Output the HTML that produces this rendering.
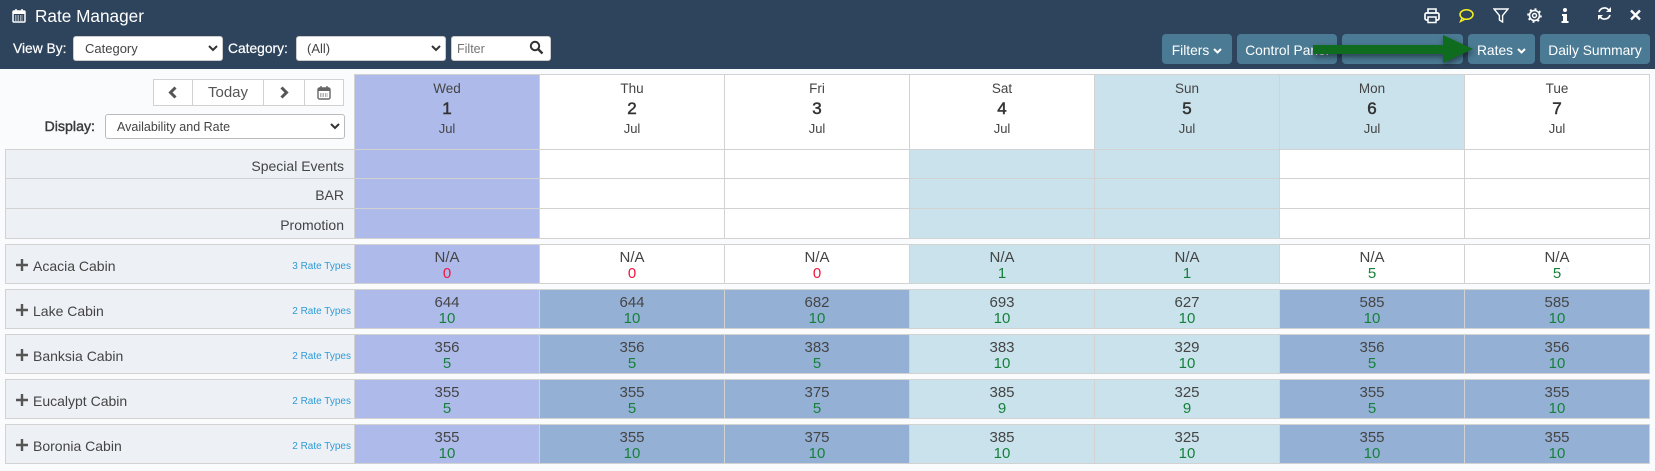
<!DOCTYPE html>
<html lang="en">
<head>
<meta charset="utf-8">
<title>Rate Manager</title>
<style>
html,body{margin:0;padding:0;width:1655px;height:471px;overflow:hidden;background:#f9fbfd;font-family:"Liberation Sans",sans-serif;color:#444}
.a{position:absolute;box-sizing:border-box}
#top{left:0;top:0;width:1655px;height:69px;background:#2e445c}
.lbl{color:#fff;font-size:13.8px;line-height:20px;white-space:nowrap;-webkit-text-stroke:.2px #fff}
select,input{font-family:"Liberation Sans",sans-serif;outline:none}
.sel{appearance:none;-webkit-appearance:none;background:#fff;border:1px solid #ccc;border-radius:3px;font-size:13px;color:#444;margin:0}
.btn{background:#4b7a94;border:0;border-radius:4px;color:#fff;font:13.8px "Liberation Sans",sans-serif;top:34px;height:30px;padding:2px 0 0;text-align:center;white-space:nowrap}
.btn svg{margin-left:4px;vertical-align:1px}
.cell{border:1px solid #d2d2d2;text-align:center}
.hd{position:absolute;left:0;right:0;text-align:center;color:#444}
.lab{background:#edf0f5;border:1px solid #d2d2d2}
.ic{position:absolute}
</style>
</head>
<body>
<div class="a" id="top"></div>

<svg class="ic" style="left:12px;top:8px" width="14" height="15" viewBox="0 0 14 15"><rect x="1" y="3" width="12" height="11" rx="1" fill="none" stroke="#fff" stroke-width="1.5"/><rect x="1" y="3" width="12" height="3" fill="#fff"/><path d="M4 1v3M10 1v3" stroke="#fff" stroke-width="1.5"/><path d="M3 8h8M3 10h8M3 12h8" stroke="#fff" stroke-dasharray="1.5 1"/></svg>
<div class="a" style="left:35px;top:5px;color:#fff;font-size:17.2px;line-height:22px;white-space:nowrap">Rate Manager</div>

<div class="a lbl" style="left:13px;top:39px">View By:</div>
<select class="a sel" style="left:73px;top:36px;width:150px;height:25px;padding-left:11px"><option>Category</option></select>
<svg class="ic" style="left:208px;top:45px;pointer-events:none" width="10" height="7" viewBox="0 0 10 7"><path d="M1 1l4 4 4-4" fill="none" stroke="#333" stroke-width="2"/></svg>
<div class="a lbl" style="left:228px;top:39px">Category:</div>
<select class="a sel" style="left:296px;top:36px;width:150px;height:25px;padding-left:10px"><option>(All)</option></select>
<svg class="ic" style="left:431px;top:45px;pointer-events:none" width="10" height="7" viewBox="0 0 10 7"><path d="M1 1l4 4 4-4" fill="none" stroke="#333" stroke-width="2"/></svg>
<input class="a sel" style="left:451px;top:36px;width:100px;height:25px;padding-left:5px;font-size:12.5px" placeholder="Filter">
<svg class="ic" style="left:529px;top:40px;pointer-events:none" width="15" height="15" viewBox="0 0 15 15"><circle cx="6" cy="6" r="4.2" fill="none" stroke="#333" stroke-width="2"/><path d="M9 9l4.5 4.5" stroke="#333" stroke-width="2.4"/></svg>

<svg class="ic" style="left:1424px;top:7px" width="16" height="17" viewBox="0 0 16 17"><path d="M4 6V2h8v4" fill="none" stroke="#fff" stroke-width="1.6"/><rect x="1" y="6" width="14" height="7" rx="1.5" fill="none" stroke="#fff" stroke-width="1.7"/><rect x="4" y="10" width="8" height="5.5" fill="#2e445c" stroke="#fff" stroke-width="1.5"/></svg>
<svg class="ic" style="left:1458px;top:8px" width="16" height="15" viewBox="0 0 16 15"><ellipse cx="8.5" cy="6.5" rx="6.5" ry="4.8" fill="none" stroke="#f5f021" stroke-width="1.5"/><path d="M4 10l-1.5 3.5 4-2" fill="none" stroke="#f5f021" stroke-width="1.4"/></svg>
<svg class="ic" style="left:1493px;top:8px" width="16" height="15" viewBox="0 0 16 15"><path d="M1 1h14L9.6 7.5V14L6.4 12V7.5z" fill="none" stroke="#fff" stroke-width="1.4"/></svg>
<svg class="ic" style="left:1527px;top:8px" width="15" height="15" viewBox="0 0 15 15"><circle cx="7.5" cy="7.5" r="5" fill="none" stroke="#fff" stroke-width="1.6"/><circle cx="7.5" cy="7.5" r="2" fill="none" stroke="#fff" stroke-width="1.4"/><circle cx="7.5" cy="7.5" r="6.4" fill="none" stroke="#fff" stroke-width="1.8" stroke-dasharray="2 3"/></svg>
<svg class="ic" style="left:1561px;top:8px" width="8" height="15" viewBox="0 0 8 15"><circle cx="4" cy="2" r="2" fill="#fff"/><path d="M1 6h5v7h1.5v2H.5v-2H2V8H1z" fill="#fff"/></svg>
<svg class="ic" style="left:1597px;top:6px" width="15" height="15" viewBox="0 0 15 15"><path d="M2 6a5.6 5.6 0 0 1 10-1.6M13 9a5.6 5.6 0 0 1-10 1.6" fill="none" stroke="#fff" stroke-width="1.7"/><path d="M14 1v5h-5zM1 14V9h5z" fill="#fff"/></svg>
<svg class="ic" style="left:1630px;top:9px" width="11" height="12" viewBox="0 0 11 12"><path d="M1 1.500l9 9M10 1.500l-9 9" stroke="#fff" stroke-width="2.400"/></svg>

<button class="a btn" style="left:1162px;width:70px">Filters<svg width="9" height="6" viewBox="0 0 9 6"><path d="M1 1l3.500 3.500L8 1" fill="none" stroke="#fff" stroke-width="2"/></svg></button>
<button class="a btn" style="left:1237px;width:100px">Control Panel</button>
<button class="a btn" style="left:1342px;width:121px"></button>
<button class="a btn" style="left:1468px;width:67px">Rates<svg width="9" height="6" viewBox="0 0 9 6"><path d="M1 1l3.500 3.500L8 1" fill="none" stroke="#fff" stroke-width="2"/></svg></button>
<button class="a btn" style="left:1540px;width:110px">Daily Summary</button>

<svg class="ic" style="left:1305px;top:30px;filter:drop-shadow(1px 3px 3px rgba(0,0,0,.45))" width="175" height="40" viewBox="0 0 175 40"><path d="M8 15h130V5l30 14-30 14V24H8z" fill="#0f6b1d"/></svg>

<div class="a" style="left:153px;top:79px;width:191px;height:27px;background:#fff;border:1px solid #d2d2d2"></div>
<div class="a" style="left:192px;top:79px;width:1px;height:27px;background:#d2d2d2"></div>
<div class="a" style="left:263px;top:79px;width:1px;height:27px;background:#d2d2d2"></div>
<div class="a" style="left:304px;top:79px;width:1px;height:27px;background:#d2d2d2"></div>
<svg class="ic" style="left:167px;top:86px" width="11" height="13" viewBox="0 0 11 13"><path d="M8.500 1.500l-5 5 5 5" fill="none" stroke="#555" stroke-width="3"/></svg>
<div class="a" style="left:193px;top:79px;width:70px;height:27px;text-align:center;font-size:15px;line-height:27px;color:#555">Today</div>
<svg class="ic" style="left:279px;top:86px" width="11" height="13" viewBox="0 0 11 13"><path d="M2.500 1.500l5 5-5 5" fill="none" stroke="#555" stroke-width="3"/></svg>
<svg class="ic" style="left:317px;top:85px" width="14" height="15" viewBox="0 0 14 15"><rect x="1" y="3" width="12" height="11" rx="1.500" fill="none" stroke="#666" stroke-width="1.400"/><rect x="1" y="3" width="12" height="3" fill="#666"/><path d="M4 1v3M10 1v3" stroke="#666" stroke-width="1.400"/><path d="M3 9h8M3 11h8" stroke="#666" stroke-dasharray="1.500 1"/></svg>
<div class="a" style="left:20px;top:117px;width:75px;text-align:right;font-size:14.2px;line-height:20px;color:#3a3a3a;-webkit-text-stroke:.4px #3a3a3a">Display:</div>
<select class="a sel" style="left:105px;top:114px;width:240px;height:25px;padding-left:11px;font-size:12.500px;border-color:#bbb"><option>Availability and Rate</option></select>
<svg class="ic" style="left:330px;top:123px;pointer-events:none" width="10" height="7" viewBox="0 0 10 7"><path d="M1 1l4 4 4-4" fill="none" stroke="#333" stroke-width="2"/></svg>

<div id="grid"></div>

<script>
const dayNames = ['Wed', 'Thu', 'Fri', 'Sat', 'Sun', 'Mon', 'Tue'];
const dayNumbers = ['1', '2', '3', '4', '5', '6', '7'];
const monthName = 'Jul';
const headerShades = ['p', 'w', 'w', 'w', 't', 't', 'w'];
const infoShades = ['p', 'w', 'w', 't', 't', 'w', 'w'];
const infoRows = ['Special Events', 'BAR', 'Promotion'];
const roomNames = ['Acacia Cabin', 'Lake Cabin', 'Banksia Cabin', 'Eucalypt Cabin', 'Boronia Cabin'];
const rateTypes = ['3 Rate Types', '2 Rate Types', '2 Rate Types', '2 Rate Types', '2 Rate Types'];
const rates = [
  ['N/A', 'N/A', 'N/A', 'N/A', 'N/A', 'N/A', 'N/A'],
  ['644', '644', '682', '693', '627', '585', '585'],
  ['356', '356', '383', '383', '329', '356', '356'],
  ['355', '355', '375', '385', '325', '355', '355'],
  ['355', '355', '375', '385', '325', '355', '355']
];
const availability = [
  [0, 0, 0, 1, 1, 5, 5],
  [10, 10, 10, 10, 10, 10, 10],
  [5, 5, 5, 10, 10, 5, 10],
  [5, 5, 5, 9, 9, 5, 10],
  [10, 10, 10, 10, 10, 10, 10]
];
const roomShades = [
  ['p', 'w', 'w', 't', 't', 'w', 'w'],
  ['p', 'b', 'b', 't', 't', 'b', 'b'],
  ['p', 'b', 'b', 't', 't', 'b', 'b'],
  ['p', 'b', 'b', 't', 't', 'b', 'b'],
  ['p', 'b', 'b', 't', 't', 'b', 'b']
];

const colours = { p: '#aebbea', w: '#ffffff', t: '#c9e2ec', b: '#94b1d5' };
const grid = document.getElementById('grid');
const colX = i => 354 + i * 185;
const colW = 186;

function box(parent, left, top, width, height, cls, bg) {
  const el = document.createElement('div');
  el.className = 'a ' + cls;
  el.style.cssText = `left:${left}px;top:${top}px;width:${width}px;height:${height}px;` + (bg ? `background:${bg};` : '');
  parent.appendChild(el);
  return el;
}
function text(parent, value, top, size, colour, extra) {
  const el = document.createElement('div');
  el.className = 'hd';
  el.textContent = value;
  el.style.cssText = `top:${top}px;font-size:${size}px;line-height:${size + 4}px;color:${colour};` + (extra || '');
  parent.appendChild(el);
  return el;
}

dayNames.forEach((name, i) => {
  const c = box(grid, colX(i), 74, colW, 76, 'cell', colours[headerShades[i]]);
  
  
  text(c, name, 5, 13.5, '#444');
  text(c, dayNumbers[i], 23, 17, '#333', '-webkit-text-stroke:.5px #333;');
  text(c, monthName, 45, 13, '#444');
});

infoRows.forEach((label, r) => {
  const top = 149 + r * 30 - (r > 0 ? 1 : 0);
  const h = r === 0 ? 30 : 31;
  const l = box(grid, 5, top, 350, h, 'lab');
  
  
  l.textContent = label;
  l.style.textAlign = 'right';
  l.style.paddingRight = '10px';
  l.style.fontSize = '14px';
  l.style.lineHeight = (h + 2) + 'px';
  infoShades.forEach((s, i) => {
    const c = box(grid, colX(i), top, colW, h, 'cell', colours[s]);
    
    
  });
});

roomNames.forEach((room, r) => {
  const top = 244 + r * 45;
  const row = box(grid, 5, top, 350, 40, 'lab');
  
  

  const plus = document.createElementNS('http://www.w3.org/2000/svg', 'svg');
  plus.setAttribute('width', '12');
  plus.setAttribute('height', '12');
  plus.setAttribute('viewBox', '0 0 12 12');
  plus.style.cssText = 'position:absolute;left:10px;top:14px';
  plus.innerHTML = '<path d="M6 0v12M0 6h12" stroke="#555" stroke-width="2.4"/>';
  
  
  row.appendChild(plus);

  const n = document.createElement('div');
  n.className = 'a';
  n.textContent = room;
  n.style.cssText = 'left:27px;top:11px;font-size:14px;line-height:20px;white-space:nowrap;color:#444';
  
  
  row.appendChild(n);

  const t = document.createElement('div');
  t.className = 'a';
  t.textContent = rateTypes[r];
  t.style.cssText = 'right:3px;top:15px;font-size:10px;line-height:14px;white-space:nowrap;color:#2f9bd6';
  
  
  row.appendChild(t);

  rates[r].forEach((rate, i) => {
    const c = box(grid, colX(i), top, colW, 40, 'cell', colours[roomShades[r][i]]);
    
    
    const v = text(c, rate, 3, 15, '#444');
    
    
    const av = availability[r][i];
    const a = text(c, String(av), 19, 15, av === 0 ? '#f4143c' : '#16803a');
    
    
  });
});
</script>
</body>
</html>
